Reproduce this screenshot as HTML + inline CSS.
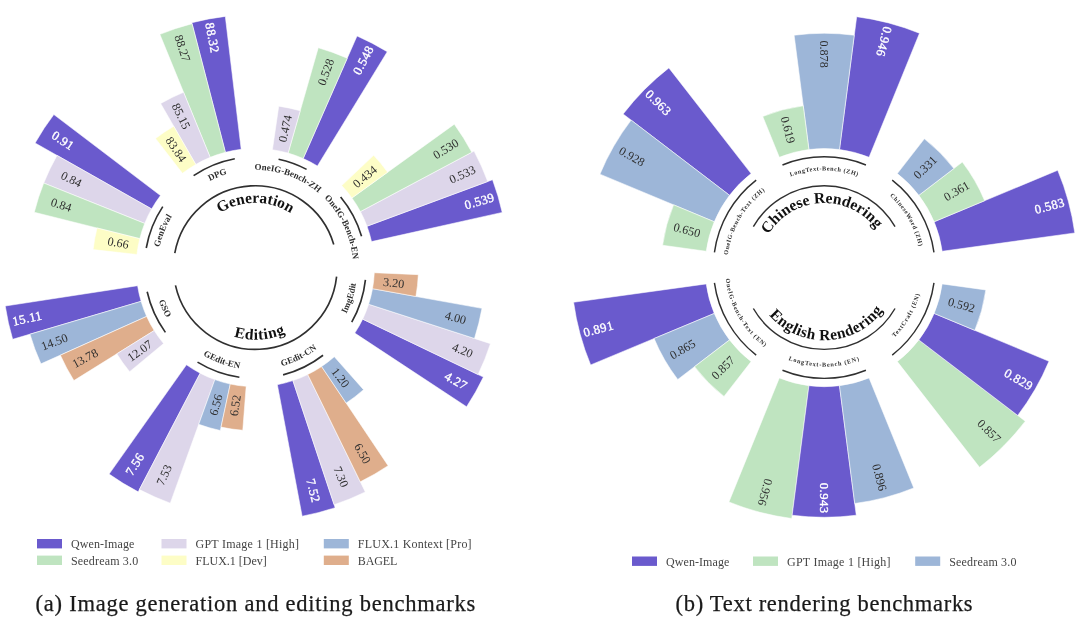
<!DOCTYPE html>
<html lang="en">
<head>
<meta charset="utf-8">
<title>Benchmark overview</title>
<style>
html,body{margin:0;padding:0;background:#ffffff;}
body{width:1080px;height:621px;overflow:hidden;font-family:"Liberation Serif", "DejaVu Serif", serif;}
svg{display:block;font-family:"Liberation Serif", "DejaVu Serif", serif;}
.ln{fill:none;stroke:#303030;stroke-width:1.5;}
.w{stroke:#ffffff;stroke-width:0.55;stroke-linejoin:miter;}
#chart-a .ln{stroke-width:1.65;}
#chart-b .ln{stroke-width:1.45;}
</style>
</head>
<body>
<svg width="1080" height="621" viewBox="0 0 1080 621">
<rect width="1080" height="621" fill="#ffffff"/>
<g class="bars" id="chart-a">
<path class="w" d="M371.53 241.62L502.21 212.41A253 253 0 0 0 492.55 179.73L366.99 226.23A119.1 119.1 0 0 1 371.53 241.62Z" fill="#6a5acd"/>
<text x="464.84" y="205.68" font-size="12.7" fill="#ffffff" stroke="#ffffff" stroke-width="0.35" letter-spacing="0.42" text-anchor="start" dominant-baseline="central" transform="rotate(-16.46 464.84 205.68)">0.539</text>
<path class="w" d="M366.99 226.23L487.73 181.51A247.87 247.87 0 0 0 474.06 151.05L360.41 211.6A119.1 119.1 0 0 1 366.99 226.23Z" fill="#ddd6ea"/>
<text x="449.94" y="180.18" font-size="12.15" fill="#2e2e2e" text-anchor="start" dominant-baseline="central" transform="rotate(-24.19 449.94 180.18)">0.533</text>
<path class="w" d="M360.41 211.6L471.79 152.26A245.3 245.3 0 0 0 454.32 124.21L351.93 197.98A119.1 119.1 0 0 1 360.41 211.6Z" fill="#bfe4c0"/>
<text x="434.24" y="156.17" font-size="12.15" fill="#2e2e2e" text-anchor="start" dominant-baseline="central" transform="rotate(-31.91 434.24 156.17)">0.530</text>
<path class="w" d="M351.93 197.98L387.67 172.23A163.15 163.15 0 0 0 373.65 155.3L341.7 185.62A119.1 119.1 0 0 1 351.93 197.98Z" fill="#fdfdc6"/>
<text x="354.38" y="185.53" font-size="12.15" fill="#2e2e2e" text-anchor="start" dominant-baseline="central" transform="rotate(-39.63 354.38 185.53)">0.434</text>
<path d="M361.56 236.2A110.8 110.8 0 0 0 340.63 196.92" class="ln"/>
<path id="tp1" d="M263.74 170.14A97.83 97.83 0 0 1 335.48 323.65" fill="none"/><text font-size="8.9" font-weight="bold" letter-spacing="0.05" fill="#2e2e2e" text-anchor="middle"><textPath href="#tp1" startOffset="50%">OneIG-Bench-EN</textPath></text>
<path class="w" d="M317.41 165.98L387.25 51.73A253 253 0 0 0 357.04 35.96L303.19 158.55A119.1 119.1 0 0 1 317.41 165.98Z" fill="#6a5acd"/>
<text x="356.44" y="73.92" font-size="12.7" fill="#ffffff" stroke="#ffffff" stroke-width="0.35" letter-spacing="0.42" text-anchor="start" dominant-baseline="central" transform="rotate(-62.43 356.44 73.92)">0.548</text>
<path class="w" d="M303.19 158.55L347.27 58.19A228.72 228.72 0 0 0 318.29 47.73L288.1 153.11A119.1 119.1 0 0 1 303.19 158.55Z" fill="#bfe4c0"/>
<text x="321.24" y="84.92" font-size="12.15" fill="#2e2e2e" text-anchor="start" dominant-baseline="central" transform="rotate(-70.15 321.24 84.92)">0.528</text>
<path class="w" d="M288.1 153.11L300.23 110.76A163.15 163.15 0 0 0 278.75 106.14L272.42 149.74A119.1 119.1 0 0 1 288.1 153.11Z" fill="#ddd6ea"/>
<text x="282.32" y="141.82" font-size="12.15" fill="#2e2e2e" text-anchor="start" dominant-baseline="central" transform="rotate(-77.88 282.32 141.82)">0.474</text>
<path d="M306.59 169.38A110.8 110.8 0 0 0 278.57 159.27" class="ln"/>
<path id="tp2" d="M192.22 192.82A97.83 97.83 0 0 1 351.6 250.36" fill="none"/><text font-size="8.9" font-weight="bold" letter-spacing="0.05" fill="#2e2e2e" text-anchor="middle"><textPath href="#tp2" startOffset="50%">OneIG-Bench-ZH</textPath></text>
<path class="w" d="M241.18 149.34L225.31 16.38A253 253 0 0 0 191.82 22.69L225.42 152.31A119.1 119.1 0 0 1 241.18 149.34Z" fill="#6a5acd"/>
<text x="214.85" y="52.88" font-size="12.7" fill="#ffffff" stroke="#ffffff" stroke-width="0.35" letter-spacing="0.42" text-anchor="end" dominant-baseline="central" transform="rotate(-280.67 214.85 52.88)">88.32</text>
<path class="w" d="M225.42 152.31L192.07 23.66A252 252 0 0 0 159.86 34.37L210.19 157.37A119.1 119.1 0 0 1 225.42 152.31Z" fill="#bfe4c0"/>
<text x="186.67" y="61.21" font-size="12.15" fill="#2e2e2e" text-anchor="end" dominant-baseline="central" transform="rotate(-288.39 186.67 61.21)">88.27</text>
<path class="w" d="M210.19 157.37L183.56 92.29A189.43 189.43 0 0 0 160.65 103.52L195.79 164.43A119.1 119.1 0 0 1 210.19 157.37Z" fill="#ddd6ea"/>
<text x="187.1" y="128.49" font-size="12.15" fill="#2e2e2e" text-anchor="end" dominant-baseline="central" transform="rotate(-296.12 187.1 128.49)">85.15</text>
<path class="w" d="M195.79 164.43L173.78 126.28A163.15 163.15 0 0 0 155.52 138.51L182.46 173.37A119.1 119.1 0 0 1 195.79 164.43Z" fill="#fdfdc6"/>
<text x="183.65" y="160.74" font-size="12.15" fill="#2e2e2e" text-anchor="end" dominant-baseline="central" transform="rotate(-303.84 183.65 160.74)">83.84</text>
<path d="M234.79 158.72A110.8 110.8 0 0 0 193.6 175.57" class="ln"/>
<path id="tp3" d="M158.36 254.42A97.83 97.83 0 0 1 315.19 190.24" fill="none"/><text font-size="8.9" font-weight="bold" letter-spacing="0.05" fill="#2e2e2e" text-anchor="middle"><textPath href="#tp3" startOffset="50%">DPG</textPath></text>
<path class="w" d="M160.47 195.55L53.85 114.54A253 253 0 0 0 35.11 143L151.64 208.95A119.1 119.1 0 0 1 160.47 195.55Z" fill="#6a5acd"/>
<text x="72.81" y="147.43" font-size="12.7" fill="#ffffff" stroke="#ffffff" stroke-width="0.35" letter-spacing="0.42" text-anchor="end" dominant-baseline="central" transform="rotate(-326.63 72.81 147.43)">0.91</text>
<path class="w" d="M151.64 208.95L57 155.39A227.84 227.84 0 0 0 43.72 183.06L144.7 223.41A119.1 119.1 0 0 1 151.64 208.95Z" fill="#ddd6ea"/>
<text x="81" y="183.93" font-size="12.15" fill="#2e2e2e" text-anchor="end" dominant-baseline="central" transform="rotate(-334.36 81 183.93)">0.84</text>
<path class="w" d="M144.7 223.41L43.72 183.06A227.84 227.84 0 0 0 34.28 212.27L139.77 238.68A119.1 119.1 0 0 1 144.7 223.41Z" fill="#bfe4c0"/>
<text x="71.33" y="208.12" font-size="12.15" fill="#2e2e2e" text-anchor="end" dominant-baseline="central" transform="rotate(-342.08 71.33 208.12)">0.84</text>
<path class="w" d="M139.77 238.68L97.03 227.98A163.15 163.15 0 0 0 93.14 249.61L136.93 254.47A119.1 119.1 0 0 1 139.77 238.68Z" fill="#fdfdc6"/>
<text x="128.68" y="244.83" font-size="12.15" fill="#2e2e2e" text-anchor="end" dominant-baseline="central" transform="rotate(-349.81 128.68 244.83)">0.66</text>
<path d="M162.76 206.66A110.8 110.8 0 0 0 146.25 247.99" class="ln"/>
<path id="tp4" d="M178.44 328.13A97.83 97.83 0 0 1 241.31 170.78" fill="none"/><text font-size="8.9" font-weight="bold" letter-spacing="0.05" fill="#2e2e2e" text-anchor="middle"><textPath href="#tp4" startOffset="50%">GenEval</textPath></text>
<path class="w" d="M137.58 285.69L5.24 306.03A253 253 0 0 0 12.67 339.29L141.08 301.35A119.1 119.1 0 0 1 137.58 285.69Z" fill="#6a5acd"/>
<text x="42.06" y="315.26" font-size="12.7" fill="#ffffff" stroke="#ffffff" stroke-width="0.35" letter-spacing="0.42" text-anchor="end" dominant-baseline="central" transform="rotate(-372.6 42.06 315.26)">15.11</text>
<path class="w" d="M141.08 301.35L29.96 334.19A234.97 234.97 0 0 0 40.95 363.87L146.65 316.4A119.1 119.1 0 0 1 141.08 301.35Z" fill="#9db6d8"/>
<text x="67.31" y="337.23" font-size="12.15" fill="#2e2e2e" text-anchor="end" dominant-baseline="central" transform="rotate(-380.32 67.31 337.23)">14.50</text>
<path class="w" d="M146.65 316.4L60.37 355.15A213.69 213.69 0 0 0 73.9 380.55L154.2 330.55A119.1 119.1 0 0 1 146.65 316.4Z" fill="#dfae8c"/>
<text x="97.15" y="351.86" font-size="12.15" fill="#2e2e2e" text-anchor="end" dominant-baseline="central" transform="rotate(-388.05 97.15 351.86)">13.78</text>
<path class="w" d="M154.2 330.55L116.8 353.84A163.15 163.15 0 0 0 129.65 371.67L163.58 343.57A119.1 119.1 0 0 1 154.2 330.55Z" fill="#ddd6ea"/>
<text x="150.92" y="342.81" font-size="12.15" fill="#2e2e2e" text-anchor="end" dominant-baseline="central" transform="rotate(-395.77 150.92 342.81)">12.07</text>
<path d="M147.17 291.77A110.8 110.8 0 0 0 165.4 332.37" class="ln"/>
<path id="tp5" d="M172.61 207.93A101.97 101.97 0 0 0 244.97 369.05" fill="none"/><text font-size="8.9" font-weight="bold" letter-spacing="0.05" fill="#2e2e2e" text-anchor="middle"><textPath href="#tp5" startOffset="50%">GSO</textPath></text>
<path class="w" d="M186.48 364.81L109.11 474.09A253 253 0 0 0 138.19 491.87L200.17 373.17A119.1 119.1 0 0 1 186.48 364.81Z" fill="#6a5acd"/>
<text x="141.35" y="454.03" font-size="12.7" fill="#ffffff" stroke="#ffffff" stroke-width="0.35" letter-spacing="0.42" text-anchor="end" dominant-baseline="central" transform="rotate(-418.57 141.35 454.03)">7.56</text>
<path class="w" d="M200.17 373.17L139.39 489.57A250.41 250.41 0 0 0 170.28 503.13L214.86 379.62A119.1 119.1 0 0 1 200.17 373.17Z" fill="#ddd6ea"/>
<text x="168.48" y="465.28" font-size="12.15" fill="#2e2e2e" text-anchor="end" dominant-baseline="central" transform="rotate(-426.29 168.48 465.28)">7.53</text>
<path class="w" d="M214.86 379.62L198.73 424.31A166.61 166.61 0 0 0 220.31 430.49L230.28 384.04A119.1 119.1 0 0 1 214.86 379.62Z" fill="#9db6d8"/>
<text x="218.92" y="394.6" font-size="12.15" fill="#2e2e2e" text-anchor="end" dominant-baseline="central" transform="rotate(-434.01 218.92 394.6)">6.56</text>
<path class="w" d="M230.28 384.04L221.03 427.11A163.15 163.15 0 0 0 242.78 430.27L246.16 386.35A119.1 119.1 0 0 1 230.28 384.04Z" fill="#dfae8c"/>
<text x="236.81" y="394.92" font-size="12.15" fill="#2e2e2e" text-anchor="end" dominant-baseline="central" transform="rotate(-441.74 236.81 394.92)">6.52</text>
<path d="M197.52 362.14A110.8 110.8 0 0 0 239.38 377.25" class="ln"/>
<path id="tp6" d="M154.93 285.57A101.97 101.97 0 0 0 321.05 345.54" fill="none"/><text font-size="8.9" font-weight="bold" letter-spacing="0.05" fill="#2e2e2e" text-anchor="middle"><textPath href="#tp6" startOffset="50%">GEdit-EN</textPath></text>
<path class="w" d="M277.35 384.64L302.14 516.23A253 253 0 0 0 335.13 507.68L292.88 380.62A119.1 119.1 0 0 1 277.35 384.64Z" fill="#6a5acd"/>
<text x="310.12" y="479.11" font-size="12.7" fill="#ffffff" stroke="#ffffff" stroke-width="0.35" letter-spacing="0.42" text-anchor="start" dominant-baseline="central" transform="rotate(-284.53 310.12 479.11)">7.52</text>
<path class="w" d="M292.88 380.62L334.14 504.71A249.87 249.87 0 0 0 365.3 491.96L307.73 374.54A119.1 119.1 0 0 1 292.88 380.62Z" fill="#ddd6ea"/>
<text x="336.87" y="466.93" font-size="12.15" fill="#2e2e2e" text-anchor="start" dominant-baseline="central" transform="rotate(-292.25 336.87 466.93)">7.30</text>
<path class="w" d="M307.73 374.54L360.29 481.75A238.5 238.5 0 0 0 388.12 465.69L321.63 366.52A119.1 119.1 0 0 1 307.73 374.54Z" fill="#dfae8c"/>
<text x="357.23" y="444.31" font-size="12.15" fill="#2e2e2e" text-anchor="start" dominant-baseline="central" transform="rotate(-299.98 357.23 444.31)">6.50</text>
<path class="w" d="M321.63 366.52L346.16 403.11A163.15 163.15 0 0 0 363.55 389.67L334.32 356.71A119.1 119.1 0 0 1 321.63 366.52Z" fill="#9db6d8"/>
<text x="333.98" y="369.39" font-size="12.15" fill="#2e2e2e" text-anchor="start" dominant-baseline="central" transform="rotate(-307.7 333.98 369.39)">1.20</text>
<path d="M283.1 374.86A110.8 110.8 0 0 0 323.06 355.26" class="ln"/>
<path id="tp7" d="M198.45 352.25A101.97 101.97 0 0 0 357.04 274.51" fill="none"/><text font-size="8.9" font-weight="bold" letter-spacing="0.05" fill="#2e2e2e" text-anchor="middle"><textPath href="#tp7" startOffset="50%">GEdit-CN</textPath></text>
<path class="w" d="M354.77 333.1L466.6 406.74A253 253 0 0 0 483.38 377.08L362.67 319.14A119.1 119.1 0 0 1 354.77 333.1Z" fill="#6a5acd"/>
<text x="445.47" y="375.21" font-size="12.7" fill="#ffffff" stroke="#ffffff" stroke-width="0.35" letter-spacing="0.42" text-anchor="start" dominant-baseline="central" transform="rotate(-330.5 445.47 375.21)">4.27</text>
<path class="w" d="M362.67 319.14L478.09 374.54A247.12 247.12 0 0 0 490.44 343.63L368.62 304.24A119.1 119.1 0 0 1 362.67 319.14Z" fill="#ddd6ea"/>
<text x="452.74" y="346.49" font-size="12.15" fill="#2e2e2e" text-anchor="start" dominant-baseline="central" transform="rotate(-338.22 452.74 346.49)">4.20</text>
<path class="w" d="M368.62 304.24L474.46 338.46A230.33 230.33 0 0 0 481.99 308.36L372.52 288.68A119.1 119.1 0 0 1 368.62 304.24Z" fill="#9db6d8"/>
<text x="445.27" y="315.16" font-size="12.15" fill="#2e2e2e" text-anchor="start" dominant-baseline="central" transform="rotate(-345.94 445.27 315.16)">4.00</text>
<path class="w" d="M372.52 288.68L415.88 296.47A163.15 163.15 0 0 0 418.3 274.63L374.29 272.73A119.1 119.1 0 0 1 372.52 288.68Z" fill="#dfae8c"/>
<text x="383.17" y="281.79" font-size="12.15" fill="#2e2e2e" text-anchor="start" dominant-baseline="central" transform="rotate(-353.67 383.17 281.79)">3.20</text>
<path d="M351.73 322.17A110.8 110.8 0 0 0 365.42 279.82" class="ln"/>
<path id="tp8" d="M276.64 367.31A101.97 101.97 0 0 0 330.98 199.26" fill="none"/><text font-size="8.9" font-weight="bold" letter-spacing="0.05" fill="#2e2e2e" text-anchor="middle"><textPath href="#tp8" startOffset="50%">ImgEdit</textPath></text>
<path d="M333.75 244.42A81.8 81.8 0 0 0 174.79 253.12" class="ln"/>
<path id="tp9" d="M190.7 261.95A64.85 64.85 0 0 1 319.9 261.95" fill="none"/><text font-size="15.5" font-weight="bold" letter-spacing="0.0" fill="#111111" text-anchor="middle"><textPath href="#tp9" startOffset="50%">Generation</textPath></text>
<path d="M175.47 285.44A81.8 81.8 0 0 0 336.6 276.62" class="ln"/>
<path id="tp10" d="M184.02 278.76A72.15 72.15 0 0 0 327.44 268.99" fill="none"/><text font-size="15.5" font-weight="bold" letter-spacing="0.6" fill="#111111" text-anchor="middle"><textPath href="#tp10" startOffset="50%">Editing</textPath></text>
</g>
<g class="bars" id="chart-b">
<path class="w" d="M942.18 251.28L1074.81 232.94A253 253 0 0 0 1057.73 170.27L934.13 221.78A119.1 119.1 0 0 1 942.18 251.28Z" fill="#6a5acd"/>
<text x="1035.01" y="210.13" font-size="12.7" fill="#ffffff" stroke="#ffffff" stroke-width="0.35" letter-spacing="0.42" text-anchor="start" dominant-baseline="central" transform="rotate(-15.25 1035.01 210.13)">0.583</text>
<path class="w" d="M934.13 221.78L984.67 200.72A173.85 173.85 0 0 0 962.35 162.07L918.85 195.3A119.1 119.1 0 0 1 934.13 221.78Z" fill="#bfe4c0"/>
<text x="944.88" y="197.93" font-size="12.15" fill="#2e2e2e" text-anchor="start" dominant-baseline="central" transform="rotate(-30 944.88 197.93)">0.361</text>
<path class="w" d="M918.85 195.3L953.85 168.56A163.15 163.15 0 0 0 924.37 138.81L897.32 173.59A119.1 119.1 0 0 1 918.85 195.3Z" fill="#9db6d8"/>
<text x="915.57" y="177.03" font-size="12.15" fill="#2e2e2e" text-anchor="start" dominant-baseline="central" transform="rotate(-44.75 915.57 177.03)">0.331</text>
<path d="M933.96 252.42A110.8 110.8 0 0 0 892.22 180.14" class="ln"/>
<path id="tp11" d="M824.2 170.46A97.14 97.14 0 0 1 908.33 316.17" fill="none"/><text font-size="6.2" font-weight="bold" letter-spacing="0.55" fill="#2e2e2e" text-anchor="middle"><textPath href="#tp11" startOffset="50%">ChineseWord (ZH)</textPath></text>
<path class="w" d="M869.06 157.27L919.49 33.23A253 253 0 0 0 856.68 16.69L839.49 149.49A119.1 119.1 0 0 1 869.06 157.27Z" fill="#6a5acd"/>
<text x="879.83" y="56.3" font-size="12.7" fill="#ffffff" stroke="#ffffff" stroke-width="0.35" letter-spacing="0.42" text-anchor="end" dominant-baseline="central" transform="rotate(-255.25 879.83 56.3)">0.946</text>
<path class="w" d="M839.49 149.49L854.28 35.22A234.32 234.32 0 0 0 794.12 35.22L808.91 149.49A119.1 119.1 0 0 1 839.49 149.49Z" fill="#9db6d8"/>
<text x="824.2" y="67.78" font-size="12.15" fill="#2e2e2e" text-anchor="end" dominant-baseline="central" transform="rotate(-270 824.2 67.78)">0.878</text>
<path class="w" d="M808.91 149.49L803.26 105.8A163.15 163.15 0 0 0 762.75 116.46L779.34 157.27A119.1 119.1 0 0 1 808.91 149.49Z" fill="#bfe4c0"/>
<text x="791.44" y="143.19" font-size="12.15" fill="#2e2e2e" text-anchor="end" dominant-baseline="central" transform="rotate(-284.75 791.44 143.19)">0.619</text>
<path d="M865.93 164.96A110.8 110.8 0 0 0 782.47 164.96" class="ln"/>
<path id="tp12" d="M740.07 219.03A97.14 97.14 0 0 1 908.33 219.03" fill="none"/><text font-size="6.2" font-weight="bold" letter-spacing="0.55" fill="#2e2e2e" text-anchor="middle"><textPath href="#tp12" startOffset="50%">LongText-Bench (ZH)</textPath></text>
<path class="w" d="M751.08 173.59L668.87 67.89A253 253 0 0 0 623.15 114.02L729.55 195.3A119.1 119.1 0 0 1 751.08 173.59Z" fill="#6a5acd"/>
<text x="669.02" y="113.77" font-size="12.7" fill="#ffffff" stroke="#ffffff" stroke-width="0.35" letter-spacing="0.42" text-anchor="end" dominant-baseline="central" transform="rotate(-315.25 669.02 113.77)">0.963</text>
<path class="w" d="M729.55 195.3L631.13 120.12A242.95 242.95 0 0 0 599.94 174.14L714.27 221.78A119.1 119.1 0 0 1 729.55 195.3Z" fill="#9db6d8"/>
<text x="643.67" y="163.37" font-size="12.15" fill="#2e2e2e" text-anchor="end" dominant-baseline="central" transform="rotate(-330 643.67 163.37)">0.928</text>
<path class="w" d="M714.27 221.78L673.6 204.84A163.15 163.15 0 0 0 662.59 245.25L706.22 251.28A119.1 119.1 0 0 1 714.27 221.78Z" fill="#bfe4c0"/>
<text x="700.08" y="233.76" font-size="12.15" fill="#2e2e2e" text-anchor="end" dominant-baseline="central" transform="rotate(-344.75 700.08 233.76)">0.650</text>
<path d="M756.18 180.14A110.8 110.8 0 0 0 714.44 252.42" class="ln"/>
<path id="tp13" d="M740.07 316.17A97.14 97.14 0 0 1 824.2 170.46" fill="none"/><text font-size="6.2" font-weight="bold" letter-spacing="0.55" fill="#2e2e2e" text-anchor="middle"><textPath href="#tp13" startOffset="50%">OneIG-Bench-Text (ZH)</textPath></text>
<path class="w" d="M706.22 283.92L573.59 302.26A253 253 0 0 0 590.67 364.93L714.27 313.42A119.1 119.1 0 0 1 706.22 283.92Z" fill="#6a5acd"/>
<text x="613.39" y="325.07" font-size="12.7" fill="#ffffff" stroke="#ffffff" stroke-width="0.35" letter-spacing="0.42" text-anchor="end" dominant-baseline="central" transform="rotate(-375.25 613.39 325.07)">0.891</text>
<path class="w" d="M714.27 313.42L654.09 338.5A184.29 184.29 0 0 0 677.75 379.47L729.55 339.9A119.1 119.1 0 0 1 714.27 313.42Z" fill="#9db6d8"/>
<text x="694.47" y="342.5" font-size="12.15" fill="#2e2e2e" text-anchor="end" dominant-baseline="central" transform="rotate(-390 694.47 342.5)">0.865</text>
<path class="w" d="M729.55 339.9L694.55 366.64A163.15 163.15 0 0 0 724.03 396.39L751.08 361.61A119.1 119.1 0 0 1 729.55 339.9Z" fill="#bfe4c0"/>
<text x="732.83" y="358.17" font-size="12.15" fill="#2e2e2e" text-anchor="end" dominant-baseline="central" transform="rotate(-404.75 732.83 358.17)">0.857</text>
<path d="M714.44 282.78A110.8 110.8 0 0 0 756.18 355.06" class="ln"/>
<path id="tp14" d="M738.41 218.07A99.06 99.06 0 0 0 824.2 366.66" fill="none"/><text font-size="6.2" font-weight="bold" letter-spacing="0.8" fill="#2e2e2e" text-anchor="middle"><textPath href="#tp14" startOffset="50%">OneIG-Bench-Text (EN)</textPath></text>
<path class="w" d="M779.34 377.93L728.91 501.97A253 253 0 0 0 791.72 518.51L808.91 385.71A119.1 119.1 0 0 1 779.34 377.93Z" fill="#bfe4c0"/>
<text x="768.57" y="478.9" font-size="12.15" fill="#2e2e2e" text-anchor="start" dominant-baseline="central" transform="rotate(-255.25 768.57 478.9)">0.956</text>
<path class="w" d="M808.91 385.71L792.15 515.25A249.72 249.72 0 0 0 856.25 515.25L839.49 385.71A119.1 119.1 0 0 1 808.91 385.71Z" fill="#6a5acd"/>
<text x="824.2" y="482.82" font-size="12.7" fill="#ffffff" stroke="#ffffff" stroke-width="0.35" letter-spacing="0.42" text-anchor="start" dominant-baseline="central" transform="rotate(-270 824.2 482.82)">0.943</text>
<path class="w" d="M839.49 385.71L854.73 503.49A237.86 237.86 0 0 0 913.78 487.94L869.06 377.93A119.1 119.1 0 0 1 839.49 385.71Z" fill="#9db6d8"/>
<text x="875.98" y="464.26" font-size="12.15" fill="#2e2e2e" text-anchor="start" dominant-baseline="central" transform="rotate(-284.75 875.98 464.26)">0.896</text>
<path d="M782.47 370.24A110.8 110.8 0 0 0 865.93 370.24" class="ln"/>
<path id="tp15" d="M738.41 317.13A99.06 99.06 0 0 0 909.99 317.13" fill="none"/><text font-size="6.2" font-weight="bold" letter-spacing="0.8" fill="#2e2e2e" text-anchor="middle"><textPath href="#tp15" startOffset="50%">LongText-Bench (EN)</textPath></text>
<path class="w" d="M897.32 361.61L979.53 467.31A253 253 0 0 0 1025.25 421.18L918.85 339.9A119.1 119.1 0 0 1 897.32 361.61Z" fill="#bfe4c0"/>
<text x="979.38" y="421.43" font-size="12.15" fill="#2e2e2e" text-anchor="start" dominant-baseline="central" transform="rotate(-315.25 979.38 421.43)">0.857</text>
<path class="w" d="M918.85 339.9L1017.71 415.42A243.51 243.51 0 0 0 1048.97 361.28L934.13 313.42A119.1 119.1 0 0 1 918.85 339.9Z" fill="#6a5acd"/>
<text x="1005.21" y="372.1" font-size="12.7" fill="#ffffff" stroke="#ffffff" stroke-width="0.35" letter-spacing="0.42" text-anchor="start" dominant-baseline="central" transform="rotate(-330 1005.21 372.1)">0.829</text>
<path class="w" d="M934.13 313.42L974.8 330.36A163.15 163.15 0 0 0 985.81 289.95L942.18 283.92A119.1 119.1 0 0 1 934.13 313.42Z" fill="#9db6d8"/>
<text x="948.32" y="301.44" font-size="12.15" fill="#2e2e2e" text-anchor="start" dominant-baseline="central" transform="rotate(-344.75 948.32 301.44)">0.592</text>
<path d="M892.22 355.06A110.8 110.8 0 0 0 933.96 282.78" class="ln"/>
<path id="tp16" d="M824.2 366.66A99.06 99.06 0 0 0 909.99 218.07" fill="none"/><text font-size="6.2" font-weight="bold" letter-spacing="0.8" fill="#2e2e2e" text-anchor="middle"><textPath href="#tp16" startOffset="50%">TextCraft (EN)</textPath></text>
<path d="M895.04 226.7A81.8 81.8 0 0 0 753.36 226.7" class="ln"/>
<path id="tp17" d="M759.62 265.34A64.62 64.62 0 0 1 888.19 258.61" fill="none"/><text font-size="15.6" font-weight="bold" letter-spacing="0.0" fill="#111111" text-anchor="middle"><textPath href="#tp17" startOffset="50%">Chinese Rendering</textPath></text>
<path d="M753.36 308.5A81.8 81.8 0 0 0 895.04 308.5" class="ln"/>
<path id="tp18" d="M752.17 277.08A72.65 72.65 0 0 0 896.78 270.77" fill="none"/><text font-size="15.5" font-weight="bold" letter-spacing="0.42" fill="#111111" text-anchor="middle"><textPath href="#tp18" startOffset="50%">English Rendering</textPath></text>
</g>
<g id="legend-a">
<rect x="37.0" y="539.0" width="25" height="9.4" fill="#6a5acd"/>
<text x="71.0" y="548.1" font-size="12" fill="#444444" textLength="63.3" lengthAdjust="spacing">Qwen-Image</text>
<rect x="37.0" y="555.6" width="25" height="9.4" fill="#bfe4c0"/>
<text x="71.0" y="564.7" font-size="12" fill="#444444" textLength="67.2" lengthAdjust="spacing">Seedream 3.0</text>
<rect x="161.5" y="539.0" width="25" height="9.4" fill="#ddd6ea"/>
<text x="195.5" y="548.1" font-size="12" fill="#444444" textLength="103.6" lengthAdjust="spacing">GPT Image 1 [High]</text>
<rect x="161.5" y="555.6" width="25" height="9.4" fill="#fdfdc6"/>
<text x="195.5" y="564.7" font-size="12" fill="#444444" textLength="71.2" lengthAdjust="spacing">FLUX.1 [Dev]</text>
<rect x="323.8" y="539.0" width="25" height="9.4" fill="#9db6d8"/>
<text x="357.8" y="548.1" font-size="12" fill="#444444" textLength="113.8" lengthAdjust="spacing">FLUX.1 Kontext [Pro]</text>
<rect x="323.8" y="555.6" width="25" height="9.4" fill="#dfae8c"/>
<text x="357.8" y="564.7" font-size="12" fill="#444444" textLength="39.5" lengthAdjust="spacing">BAGEL</text>
</g>
<g id="legend-b">
<rect x="632.0" y="556.5" width="25" height="9.4" fill="#6a5acd"/>
<text x="666.0" y="565.6" font-size="12" fill="#444444" textLength="63.3" lengthAdjust="spacing">Qwen-Image</text>
<rect x="753.0" y="556.5" width="25" height="9.4" fill="#bfe4c0"/>
<text x="787.0" y="565.6" font-size="12" fill="#444444" textLength="103.6" lengthAdjust="spacing">GPT Image 1 [High]</text>
<rect x="915.2" y="556.5" width="25" height="9.4" fill="#9db6d8"/>
<text x="949.2" y="565.6" font-size="12" fill="#444444" textLength="67.2" lengthAdjust="spacing">Seedream 3.0</text>
</g>
<g id="captions">
<text x="35.6" y="611.2" font-size="22.5" fill="#1a1a1a" stroke="#1a1a1a" stroke-width="0.25" textLength="439.6" lengthAdjust="spacing">(a) Image generation and editing benchmarks</text><text x="675.6" y="611.2" font-size="22.5" fill="#1a1a1a" stroke="#1a1a1a" stroke-width="0.25" textLength="297" lengthAdjust="spacing">(b) Text rendering benchmarks</text>
</g>
</svg>
</body>
</html>
